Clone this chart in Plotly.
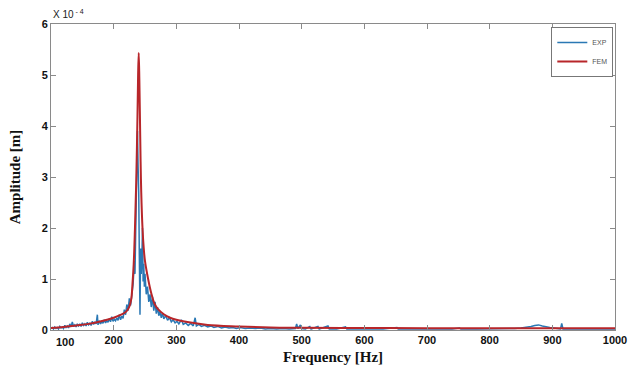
import plotly.graph_objects as go

# Units: amplitude in 1e-4 m (axis shows "X 10^-4")
exp_freq = [100,102,104,106,108,110,112,114,116,118,120,122,124,126,128,130,132,134,136,138,
            140,142,144,146,148,150,152,154,156,158,160,162,164,166,168,170,172,174,175,177,
            179,181,183,185,187,189,191,193,195,197,199,201,203,205,207,209,211,213,215,217,
            219,221,223,225,227,229,231,233,234,235,236,237,238,239,240,241,242,243,244,245,
            246,247,248,249,250,252,254,256,258,260,262,264,266,268,270,272,274,276,278,280,
            283,286,289,292,295,298,301,304,308,311,315,319,323,327,330,332,336,340,345,350,
            355,360,366,372,378,384,390,396,402,410,418,426,434,442,450,460,470,480,488,490,
            492,494,498,500,506,513,515,526,528,542,544,556,570,572,590,610,630,652,654,680,
            710,740,752,754,780,800,820,840,850,858,866,872,878,884,890,896,902,908,913,915,
            917,930,950,970,990,1000]
exp_amp = [0.03,0.05,0.02,0.06,0.03,0.05,0.02,0.07,0.04,0.06,0.03,0.09,0.05,0.08,0.04,0.12,0.06,0.16,0.07,0.10,
           0.06,0.12,0.08,0.11,0.07,0.14,0.09,0.12,0.08,0.15,0.10,0.13,0.09,0.17,0.11,0.15,0.12,0.30,0.10,0.18,
           0.12,0.16,0.13,0.20,0.14,0.18,0.15,0.22,0.16,0.26,0.17,0.21,0.18,0.24,0.19,0.30,0.20,0.27,0.23,0.40,
           0.30,0.50,0.38,0.62,0.48,0.75,0.90,1.35,1.10,1.80,2.40,3.30,3.90,3.20,2.70,1.40,0.30,1.60,1.10,1.40,
           2.00,0.95,1.30,0.85,1.10,0.70,0.85,0.55,0.70,0.45,0.65,0.38,0.55,0.32,0.45,0.28,0.36,0.24,0.33,0.22,
           0.28,0.19,0.24,0.16,0.20,0.14,0.17,0.12,0.20,0.11,0.14,0.09,0.13,0.08,0.24,0.08,0.11,0.07,0.09,0.06,
           0.08,0.05,0.07,0.04,0.06,0.04,0.05,0.03,0.05,0.03,0.04,0.03,0.04,0.02,0.03,0.02,0.03,0.02,0.04,0.03,
           0.12,0.03,0.10,0.03,0.02,0.07,0.02,0.07,0.02,0.08,0.02,0.02,0.06,0.02,0.02,0.02,0.02,0.05,0.02,0.02,
           0.02,0.02,0.04,0.02,0.02,0.02,0.02,0.03,0.04,0.05,0.07,0.09,0.10,0.08,0.06,0.05,0.04,0.03,0.02,0.13,
           0.02,0.02,0.02,0.02,0.02,0.02]

fem_freq = [100,120,140,160,180,200,210,220,225,228,230,232,234,236,238,239,240,241,242,243,
            244,246,248,250,255,260,265,270,280,290,300,320,350,400,450,500,600,700,800,900,1000]
fem_amp = [0.04,0.06,0.09,0.12,0.17,0.24,0.29,0.36,0.46,0.60,0.90,1.30,2.00,2.90,4.20,5.00,5.43,4.90,4.10,3.30,
           2.70,2.00,1.60,1.35,1.00,0.72,0.52,0.42,0.31,0.24,0.20,0.15,0.10,0.07,0.05,0.045,0.04,0.035,0.035,0.035,0.035]

y_ticks = [0, 1, 2, 3, 4, 5, 6]
x_ticks = [100, 200, 300, 400, 500, 600, 700, 800, 900, 1000]
x_ticktext = ["", "200", "300", "400", "500", "600", "700", "800", "900", "1000"]

tick_font = dict(family="Liberation Sans", size=11, color="#111", weight="bold")
title_font = dict(family="Liberation Serif", size=15, color="#111", weight="bold")

fig = go.Figure()
fig.add_trace(go.Scatter(x=exp_freq, y=exp_amp, mode="lines", name="EXP",
                         line=dict(color="#2a78b4", width=1.5)))
fig.add_trace(go.Scatter(x=fem_freq, y=fem_amp, mode="lines", name="FEM",
                         line=dict(color="#b8262a", width=2), line_shape="spline"))

axis_common = dict(showgrid=False, zeroline=False, showline=True, linecolor="#8a8a8a", linewidth=1,
                   mirror="ticks", ticks="inside", ticklen=5, tickcolor="#8a8a8a",
                   tickfont=tick_font, automargin=False, ticklabeloverflow="allow")

fig.update_xaxes(range=[100, 1000], tickvals=x_ticks, ticktext=x_ticktext,
                 title=dict(text="Frequency [Hz]", standoff=6, font=title_font),
                 **axis_common)
fig.update_yaxes(range=[0, 6], tickvals=y_ticks,
                 title=dict(text="Amplitude [m]", standoff=17, font=title_font),
                 **axis_common)

# first x tick label sits a little right of the axis corner in the reference
fig.add_annotation(x=x_ticks[0], y=0, xref="x", yref="paper", xanchor="center", yanchor="top",
                   text=str(x_ticks[0]), showarrow=False, xshift=14, yshift=-4, font=tick_font)

fig.add_annotation(x=0, y=1, xref="paper", yref="paper", xanchor="left", yanchor="bottom",
                   text="X 10<sup> - 4</sup>", showarrow=False, yshift=2,
                   font=dict(family="Liberation Sans", size=10, color="#222"))

fig.update_layout(width=630, height=372, margin=dict(l=51, r=15, t=24, b=42),
                  paper_bgcolor="white", plot_bgcolor="white",
                  legend=dict(x=0.997, y=0.99, xanchor="right", yanchor="top",
                              bordercolor="#777", borderwidth=1, bgcolor="white",
                              font=dict(family="Liberation Sans", size=7, color="#555"),
                              tracegroupgap=0, itemwidth=30))

# remove the default 8px page margin so the 630x372 figure fills the window exactly
fig.write_html("out.html", config={"displayModeBar": False},
               post_script="document.body.style.margin='0';document.body.style.overflow='hidden';")
